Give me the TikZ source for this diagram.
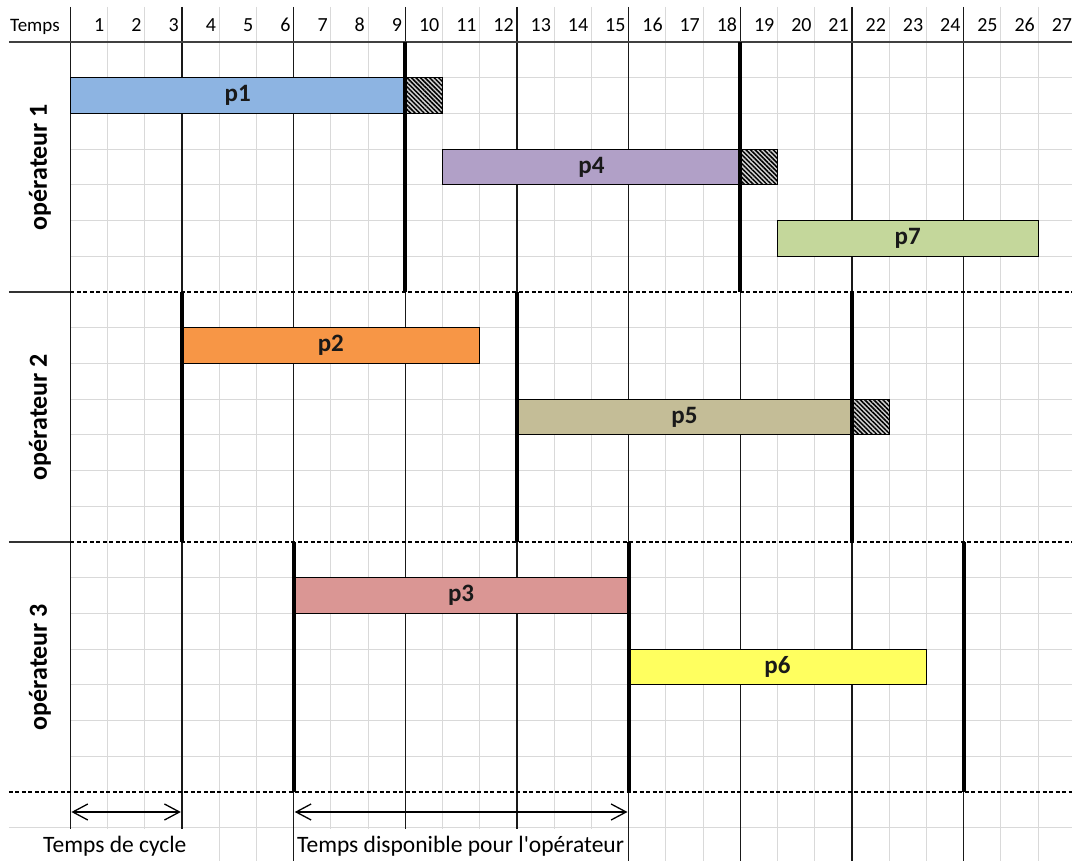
\documentclass[tikz,border=0pt]{standalone}
\usepackage{fontspec}
\setmainfont{Carlito}[Ligatures=TeXOff]
\usetikzlibrary{arrows.meta,patterns.meta,fit}
\definecolor{cpa}{RGB}{141,180,226}
\definecolor{cpb}{RGB}{247,150,70}
\definecolor{cpc}{RGB}{218,150,148}
\definecolor{cpd}{RGB}{177,160,199}
\definecolor{cpe}{RGB}{196,189,151}
\definecolor{cpf}{RGB}{255,255,95}
\definecolor{cpg}{RGB}{196,215,155}
\definecolor{gridgray}{RGB}{217,217,217}
\definecolor{hdrline}{RGB}{64,64,64}
\begin{document}
\begin{tikzpicture}[x=1pt,y=-1pt,
  lightgrid/.style={draw=gridgray, line width=1pt},
  thinline/.style={draw=black!90, line width=1.3pt},
  thickline/.style={draw=black, line width=4pt},
  sepdash/.style={draw=black, line width=1.2pt, dash pattern=on 4pt off 2.5pt},
  sepsolid/.style={draw=black!80, line width=1.3pt},
  bar/.style={draw=black, line width=1pt, inner sep=0pt},
  barlabel/.style={text=black!90, font=\fontsize{25}{29}\selectfont\bfseries},
  hatch/.style={draw=black, line width=1.2pt, inner sep=0pt, fill=gray!35, postaction={pattern={Lines[angle=-45,distance=3.2pt,line width=1.5pt]}}},
  oplabel/.style={rotate=90, inner sep=0pt, font=\fontsize{26}{30}\selectfont\bfseries},
  hdr/.style={font=\fontsize{20}{23}\selectfont, anchor=base east, inner sep=0pt},
  hdrl/.style={font=\fontsize{19}{22}\selectfont, anchor=base west, inner sep=0pt},
  foot/.style={font=\fontsize{23.5}{27}\selectfont, anchor=base west, inner sep=0pt},
  dimarrow/.style={draw=black, line width=1.3pt, {Straight Barb[length=15pt,width=16pt]}-{Straight Barb[length=15pt,width=16pt]}},
]
\useasboundingbox[fill=white] (0,0) rectangle (1072,861);
\begin{scope}[shift={(70.3,42)}, x=37.22pt, y=-35.714pt]
  % light grid
  \foreach \c in {1,2,4,5,7,8,10,11,13,14,16,17,19,20,22,23,25,26}
    \draw[lightgrid] (\c,-0.98) -- (\c,22.93);
  \foreach \r in {1,...,6,8,9,...,13,15,16,...,20}
    \draw[lightgrid] (0,\r) -- (26.91,\r);
  \draw[lightgrid] (-1.647,22) -- (26.91,22);
  % dark thin verticals
  \foreach \c in {0,3,...,24}
    \draw[thinline] (\c,-0.98) -- (\c,22.93);
  % header line
  \draw[draw=hdrline, line width=1.8pt] (-1.647,0) -- (26.91,0);
  % section separators
  \draw[sepsolid] (-1.647,7) -- (0,7);
  \draw[sepdash] (0,7) -- (26.91,7);
  \draw[sepsolid] (-1.647,14) -- (0,14);
  \draw[sepdash] (0,14) -- (26.91,14);
  \draw[sepdash] (-1.647,21) -- (26.91,21);
  % bars
  \node[bar, fill=cpa, fit={(0,1) (9,2)}, label={[barlabel]center:p1}] (p1) {};
  \node[bar, fill=cpd, fit={(10,3) (18,4)}, label={[barlabel]center:p4}] (p4) {};
  \node[bar, fill=cpg, fit={(19,5) (26,6)}, label={[barlabel]center:p7}] (p7) {};
  \node[bar, fill=cpb, fit={(3,8) (11,9)}, label={[barlabel]center:p2}] (p2) {};
  \node[bar, fill=cpe, fit={(12,10) (21,11)}, label={[barlabel]center:p5}] (p5) {};
  \node[bar, fill=cpc, fit={(6,15) (15,16)}, label={[barlabel]center:p3}] (p3) {};
  \node[bar, fill=cpf, fit={(15,17) (23,18)}, label={[barlabel]center:p6}] (p6) {};
  % hatched slack
  \node[hatch, fit={(9,1) (10,2)}] (h1) {};
  \node[hatch, fit={(18,3) (19,4)}] (h4) {};
  \node[hatch, fit={(21,10) (22,11)}] (h5) {};
  % thick cycle lines
  \draw[thickline] (9,0) -- (9,7);
  \draw[thickline] (18,0) -- (18,7);
  \draw[thickline] (3,7) -- (3,14);
  \draw[thickline] (12,7) -- (12,14);
  \draw[thickline] (21,7) -- (21,14);
  \draw[thickline] (6,14) -- (6,21);
  \draw[thickline] (15,14) -- (15,21);
  \draw[thickline] (24,14) -- (24,21);
  % operator labels
  \node[oplabel] (op1) at (-0.814,3.5) {opérateur 1};
  \node[oplabel] (op2) at (-0.814,10.5) {opérateur 2};
  \node[oplabel] (op3) at (-0.814,17.5) {opérateur 3};
  % header
  \node[hdrl] (temps) at (-1.62,-0.3) {Temps};
  \foreach \n in {1,...,27}
    \node[hdr] (h\n) at (\n-0.08,-0.288) {\n};
  % footer covers (text overflow areas)
  \fill[white] (-1.7,22.03) rectangle (3.5,23);
  \fill[white] (6.04,22.03) rectangle (14.96,23);
  % dimension arrows
  \coordinate (a1s) at (0.03,21.56);
  \coordinate (a1e) at (2.97,21.56);
  \coordinate (a2s) at (6.03,21.56);
  \coordinate (a2e) at (14.97,21.56);
  \draw[dimarrow] (a1s) -- (a1e);
  \draw[dimarrow] (a2s) -- (a2e);
  % footer texts
  \node[foot] (tc) at (-0.733,22.70) {Temps de cycle};
  \node[foot] (td) at (6.09,22.70) {Temps disponible pour l'opérateur};
\end{scope}
\end{tikzpicture}
\end{document}
